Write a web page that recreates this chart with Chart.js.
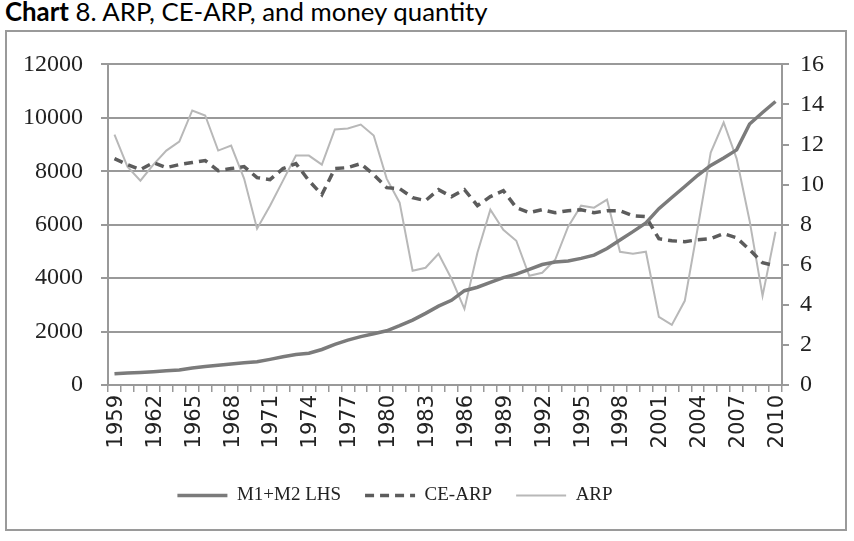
<!DOCTYPE html>
<html lang="en">
<head>
<meta charset="UTF-8">
<title>Chart 8. ARP, CE-ARP, and money quantity</title>
<script src="https://cdn.jsdelivr.net/npm/chart.js"></script>
<style>
  body { margin: 0; background: #fff; }
  #title { position: absolute; left: 5px; top: -4px; font-family: Lato, "Open Sans", sans-serif; font-size: 25.8px; color: #000; white-space: nowrap; }
  #box { position: absolute; left: 5px; top: 30px; width: 838px; height: 497px; border: 2px solid #9a9a9a; }
</style>
</head>
<body>
<div id="title"><b>Chart</b> 8. ARP, CE-ARP, and money quantity</div>
<div id="box"><canvas id="moneyChart" width="838" height="497"></canvas></div>

<script>
const years = [];
for (let y = 1959; y <= 2010; y++) years.push(String(y));

// M1+M2, left axis
const m1m2 = [420, 450, 470, 500, 530, 560, 640, 690, 740, 790,
              830, 870, 960, 1060, 1140, 1190, 1330, 1520, 1680, 1810,
              1920, 2030, 2220, 2430, 2680, 2950, 3170, 3530, 3660, 3840,
              4020, 4150, 4330, 4510, 4600, 4640, 4740, 4860, 5110, 5430,
              5740, 6070, 6600, 7020, 7430, 7850, 8220, 8500, 8800, 9770,
              10200, 10610];

// CE-ARP, right axis
const ceArp = [11.3, 11.0, 10.75, 11.1, 10.85, 11.0, 11.1, 11.2, 10.7, 10.8,
               10.9, 10.35, 10.25, 10.8, 11.05, 10.2, 9.5, 10.8, 10.85, 11.05,
               10.5, 9.85, 9.8, 9.35, 9.2, 9.75, 9.4, 9.75, 8.95, 9.4,
               9.7, 8.85, 8.6, 8.75, 8.6, 8.7, 8.75, 8.6, 8.7, 8.7,
               8.45, 8.4, 7.3, 7.2, 7.15, 7.25, 7.3, 7.55, 7.35, 6.75,
               6.1, 5.95];

// ARP, right axis
const arp = [12.5, 10.9, 10.2, 11.0, 11.7, 12.15, 13.7, 13.45, 11.7, 11.95,
             10.3, 7.8, 8.95, 10.2, 11.45, 11.45, 11.0, 12.75, 12.8, 13.0,
             12.45, 10.3, 9.1, 5.7, 5.85, 6.55, 5.3, 3.8, 6.6, 8.75,
             7.75, 7.2, 5.45, 5.6, 6.25, 7.9, 8.95, 8.85, 9.25, 6.65,
             6.55, 6.65, 3.4, 3.0, 4.2, 7.85, 11.6, 13.1, 11.3, 8.2,
             4.45, 7.65];

const leftTicks = { min: 0, max: 12000, step: 2000 };
const rightTicks = { min: 0, max: 16, step: 2 };

const gridGray = '#999999';
const textCol = '#222222';

// legend sits a bit left of centre in the original
const shiftLegend = {
    id: 'shiftLegend',
    afterLayout(chart) {
        if (!chart.legend) return;
        chart.legend.left -= 31;
        chart.legend.right -= 31;
    }
};

const ctx = document.getElementById('moneyChart').getContext('2d');
new Chart(ctx, {
    type: 'line',
    data: {
        labels: years,
        datasets: [
            { label: 'M1+M2 LHS', data: m1m2, yAxisID: 'yL', borderColor: '#7b7b7b', borderWidth: 3.5, pointRadius: 0, tension: 0 },
            { label: 'CE-ARP', data: ceArp, yAxisID: 'yR', borderColor: '#5c5c5c', borderWidth: 3.5, borderDash: [9, 6], pointRadius: 0, tension: 0 },
            { label: 'ARP', data: arp, yAxisID: 'yR', borderColor: '#b8b8b8', borderWidth: 2, pointRadius: 0, tension: 0 }
        ]
    },
    options: {
        responsive: false,
        animation: false,
        layout: { padding: { left: 0, right: 0, top: 29, bottom: 14 } },
        scales: {
            x: {
                type: 'category',
                offset: true,
                grid: { display: true, offset: true, drawOnChartArea: false, drawTicks: true, tickLength: 7, color: gridGray, lineWidth: 1.5 },
                border: { display: true, color: gridGray, width: 2 },
                ticks: {
                    autoSkip: false, minRotation: 90, maxRotation: 90, padding: 3, labelOffset: 2, color: textCol,
                    font: { family: 'DejaVu Sans', size: 21 },
                    callback: (v, i) => (i % 3 === 0 ? years[i] : '')
                },
                afterFit: s => { s.height = 77; }
            },
            yL: {
                position: 'left',
                min: leftTicks.min, max: leftTicks.max,
                grid: { color: gridGray, lineWidth: 2, tickLength: 7 },
                border: { display: true, color: gridGray, width: 2 },
                ticks: { stepSize: leftTicks.step, padding: 18, color: textCol, font: { family: 'Liberation Serif', size: 24 },
                         callback: v => String(v) },
                afterFit: s => { s.width = 101; }
            },
            yR: {
                position: 'right',
                min: rightTicks.min, max: rightTicks.max,
                grid: { drawOnChartArea: false, color: gridGray, lineWidth: 2, tickLength: 7 },
                border: { display: true, color: gridGray, width: 2 },
                ticks: { stepSize: rightTicks.step, padding: 11, color: textCol, font: { family: 'Liberation Serif', size: 24 },
                         callback: v => String(v) },
                afterFit: s => { s.width = 63; }
            }
        },
        plugins: {
            title: { display: false },
            tooltip: { enabled: false },
            legend: {
                display: true,
                position: 'bottom',
                labels: {
                    usePointStyle: true, pointStyleWidth: 50,
                    padding: 24, color: textCol,
                    font: { family: 'Liberation Serif', size: 19 },
                    generateLabels: chart => chart.data.datasets.map((ds, i) => ({
                        text: ds.label,
                        strokeStyle: ds.borderColor,
                        fillStyle: ds.borderColor,
                        lineWidth: ds.borderWidth,
                        lineDash: ds.borderDash || [],
                        pointStyle: 'line',
                        fontColor: textCol,
                        hidden: false,
                        datasetIndex: i
                    }))
                }
            }
        }
    },
    plugins: [shiftLegend]
});
</script>
</body>
</html>
